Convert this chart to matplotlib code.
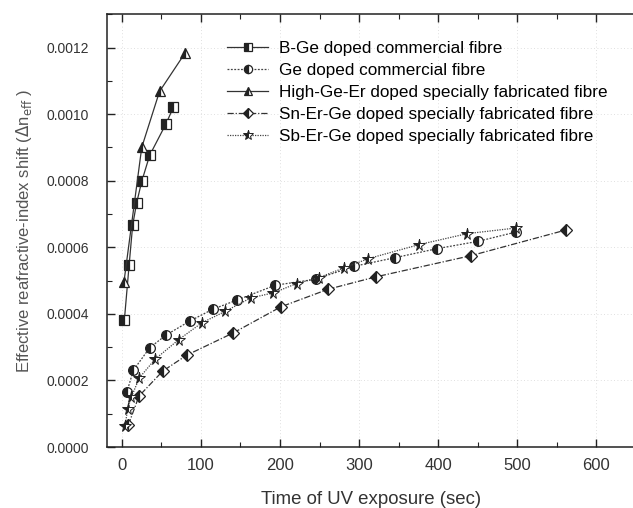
import matplotlib
matplotlib.use('Agg')
import matplotlib.pyplot as plt
from matplotlib.ticker import MultipleLocator

plt.rcParams['font.family'] = ['Liberation Sans', 'DejaVu Sans']

# data
bge_t = [3, 9, 13.5, 18.5, 25, 35, 55.5, 65]
bge_n = [0.000381, 0.000546, 0.000666, 0.000733, 0.000798, 0.000876, 0.000970, 0.001020]

ge_t = [6, 14.5, 35, 55.5, 85.5, 115, 145, 194, 245, 294, 346, 399, 451, 499]
ge_n = [0.000164, 0.000231, 0.000298, 0.000336, 0.000378, 0.000414, 0.000441,
        0.000486, 0.000504, 0.000543, 0.000569, 0.000596, 0.000618, 0.000646]

hge_t = [2.5, 25, 47.5, 80]
hge_n = [0.000496, 0.000900, 0.001068, 0.001184]

sn_t = [8, 21.5, 51.5, 82, 141, 201, 261, 321, 442, 562]
sn_n = [0.000066, 0.000153, 0.000228, 0.000276, 0.000343, 0.000421,
        0.000474, 0.000511, 0.000575, 0.000652]

sb_t = [4, 7, 12, 22, 42, 72, 101, 131, 163, 191.5, 221, 249, 281, 312, 376, 437, 499]
sb_n = [0.000064, 0.000113, 0.000151, 0.000208, 0.000264, 0.000323, 0.000373,
        0.000408, 0.000448, 0.000463, 0.000491, 0.000509, 0.000538, 0.000566,
        0.000608, 0.000641, 0.000658]

labels = ['B-Ge doped commercial fibre',
          'Ge doped commercial fibre',
          'High-Ge-Er doped specially fabricated fibre',
          'Sn-Er-Ge doped specially fabricated fibre',
          'Sb-Er-Ge doped specially fabricated fibre']

fig = plt.figure(figsize=(6.33, 5.08), dpi=100)
ax = fig.add_axes([0.169, 0.12, 0.835, 0.852])

mk = dict(markersize=7, markeredgecolor='#222222', markerfacecolor='#222222',
          markerfacecoloralt='white', fillstyle='left', markeredgewidth=0.9)

ax.plot(bge_t, bge_n, '-', color='#333333', lw=0.9, marker='s', label=labels[0], **mk)
ax.plot(ge_t, ge_n, color='#444444', lw=0.9, ls=(0, (1.5, 1.2)), marker='o', label=labels[1], **mk)
ax.plot(hge_t, hge_n, '-', color='#333333', lw=0.9, marker='^', label=labels[2], **mk)
ax.plot(sn_t, sn_n, color='#333333', lw=0.9, ls=(0, (5, 1.5, 1, 1.5)), marker='D',
        label=labels[3], **dict(mk, markersize=6.5))
ax.plot(sb_t, sb_n, color='#444444', lw=0.9, ls=(0, (1, 1)), marker='*',
        label=labels[4], **dict(mk, markersize=8.5, markeredgewidth=0.7))

ax.set_xlim(-19, 650)
ax.set_ylim(0, 0.0013)
ax.xaxis.set_major_locator(MultipleLocator(100))
ax.xaxis.set_minor_locator(MultipleLocator(50))
ax.yaxis.set_major_locator(MultipleLocator(0.0002))
ax.yaxis.set_minor_locator(MultipleLocator(0.0001))
ax.yaxis.set_major_formatter(matplotlib.ticker.FormatStrFormatter('%.4f'))

ax.tick_params(which='both', direction='in', top=True, right=False,
               colors='#222222', labelcolor='#333333')
ax.tick_params(which='major', length=6, width=1)
ax.tick_params(which='minor', length=3.5, width=0.8)
ax.tick_params(axis='x', pad=8, labelsize=12)
ax.tick_params(axis='y', pad=13, labelsize=10)
ax.spines['right'].set_visible(False)
for s in ['left', 'bottom', 'top']:
    ax.spines[s].set_linewidth(1.1)
    ax.spines[s].set_color('#222222')

ax.grid(True, which='major', ls=(0, (1, 3)), color='#d5d5d5', lw=0.6)

ax.set_xlabel('Time of UV exposure (sec)', fontsize=13.4, color='#333333', labelpad=13)
ax.set_ylabel('Effective reafractive-index shift ($\\Delta$n$_{\\rm eff}$ )',
              fontsize=12, color='#555555', labelpad=9)

leg = ax.legend(loc='upper left', bbox_to_anchor=(0.215, 0.955), frameon=False,
                fontsize=12.3, handlelength=2.4, handletextpad=0.6,
                labelspacing=0.42, borderaxespad=0, markerscale=0.85)

fig.savefig('out.png', dpi=100)
